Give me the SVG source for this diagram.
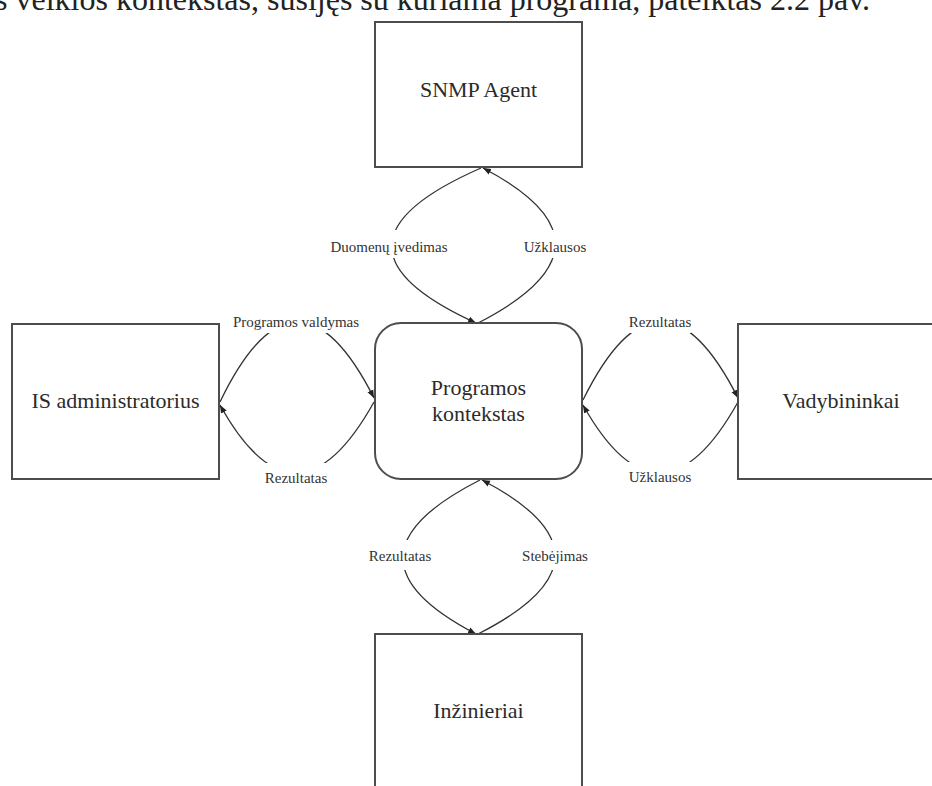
<svg xmlns="http://www.w3.org/2000/svg" width="932" height="786" viewBox="0 0 932 786">
<style>
  .box { fill: #ffffff; stroke: #4d4d4d; stroke-width: 2; }
  .node-text { font-family: "Liberation Serif", "Times New Roman", serif; font-size: 22px; fill: #2b2b2b; text-anchor: middle; }
  .edge { fill: none; stroke: #333333; stroke-width: 1.3; marker-end: url(#arrow); }
  .lbl-bg { fill: #ffffff; stroke: none; }
  .lbl { font-family: "Liberation Serif", "Times New Roman", serif; font-size: 15px; fill: #333333; text-anchor: middle; }
  .caption { font-family: "Liberation Serif", "Times New Roman", serif; font-size: 32px; fill: #222222; }
</style>
<defs>
  <marker id="arrow" viewBox="0 0 10 10" refX="10" refY="5" markerWidth="8" markerHeight="8" markerUnits="userSpaceOnUse" orient="auto">
    <path d="M0,1 L10,5 L0,9 z" fill="#222222"/>
  </marker>
</defs>
<rect x="0" y="0" width="932" height="786" fill="#ffffff"/>

<text class="caption" x="-5" y="10">s veiklos kontekstas, susijęs su kuriama programa, pateiktas 2.2 pav.</text>

<g id="connectors">
  <!-- top: SNMP -> program, program -> SNMP -->
  <path class="edge" d="M481,168 Q305,245 476,323"/>
  <path class="edge" d="M478,323 Q630,245 483,168"/>
  <!-- left: admin -> program, program -> admin -->
  <path class="edge" d="M220,402 Q296,244 374,398"/>
  <path class="edge" d="M374,402 Q296,542 220,405"/>
  <!-- right: program -> Vadybininkai, Vadybininkai -> program -->
  <path class="edge" d="M583,400 Q660,244 738,398"/>
  <path class="edge" d="M738,402 Q660,542 583,405"/>
  <!-- bottom: program -> engineers, engineers -> program -->
  <path class="edge" d="M480,480 Q328,557 476,634"/>
  <path class="edge" d="M478,634 Q630,557 482,480"/>

  <g id="labels">
    <rect class="lbl-bg" x="330" y="230" width="118" height="28"/>
    <text class="lbl" x="389" y="252">Duomenų įvedimas</text>
    <rect class="lbl-bg" x="523" y="230" width="64" height="28"/>
    <text class="lbl" x="555" y="252">Užklausos</text>

    <rect class="lbl-bg" x="234" y="307" width="125" height="26"/>
    <text class="lbl" x="296" y="327">Programos valdymas</text>
    <rect class="lbl-bg" x="265" y="463" width="62" height="26"/>
    <text class="lbl" x="296" y="483">Rezultatas</text>

    <rect class="lbl-bg" x="629" y="307" width="62" height="26"/>
    <text class="lbl" x="660" y="327">Rezultatas</text>
    <rect class="lbl-bg" x="628" y="462" width="64" height="26"/>
    <text class="lbl" x="660" y="482">Užklausos</text>

    <rect class="lbl-bg" x="369" y="540" width="62" height="30"/>
    <text class="lbl" x="400" y="561">Rezultatas</text>
    <rect class="lbl-bg" x="522" y="540" width="67" height="30"/>
    <text class="lbl" x="555" y="561">Stebėjimas</text>
  </g>
</g>

<g id="snmp-agent">
  <rect class="box" x="375" y="22" width="207" height="145"/>
  <text class="node-text" x="478.5" y="97">SNMP Agent</text>
</g>

<g id="programos-kontekstas">
  <rect class="box" x="375" y="323" width="207" height="156" rx="26" ry="26"/>
  <text class="node-text" x="478.5" y="395">Programos</text>
  <text class="node-text" x="478.5" y="421">kontekstas</text>
</g>

<g id="is-administratorius">
  <rect class="box" x="12" y="324" width="207" height="155"/>
  <text class="node-text" x="115.5" y="408">IS administratorius</text>
</g>

<g id="vadybininkai">
  <rect class="box" x="738" y="324" width="206" height="155"/>
  <text class="node-text" x="841" y="408">Vadybininkai</text>
</g>

<g id="inzinieriai">
  <rect class="box" x="375" y="634" width="207" height="170"/>
  <text class="node-text" x="478.5" y="718">Inžinieriai</text>
</g>
</svg>
